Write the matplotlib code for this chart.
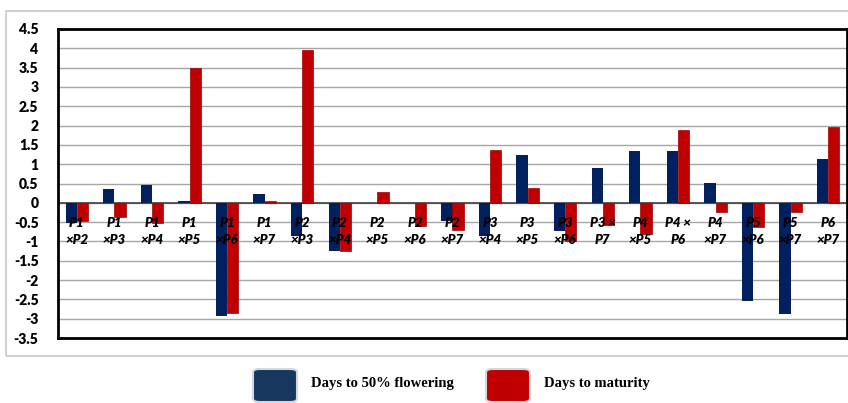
import matplotlib.pyplot as plt
from matplotlib.patches import FancyBboxPatch, Rectangle
import numpy as np

# crosses and the two traits
crosses = ["P1\n×P2", "P1\n×P3", "P1\n×P4", "P1\n×P5", "P1\n×P6", "P1\n×P7",
           "P2\n×P3", "P2\n×P4", "P2\n×P5", "P2\n×P6", "P2\n×P7",
           "P3\n×P4", "P3\n×P5", "P3\n×P6", "P3 ×\nP7",
           "P4\n×P5", "P4 ×\nP6", "P4\n×P7", "P5\n×P6", "P5\n×P7", "P6\n×P7"]
flowering = [-0.53, 0.35, 0.45, 0.05, -2.93, 0.22, -0.87, -1.25, 0.0, 0.0, -0.48,
             -0.87, 1.23, -0.74, 0.90, 1.33, 1.35, 0.51, -2.53, -2.88, 1.13]
maturity = [-0.46, -0.36, -0.53, 3.50, -2.86, 0.05, 3.95, -1.25, 0.27, -0.60, -0.70,
            1.38, 0.38, -0.98, -0.57, -0.80, 1.89, -0.24, -0.63, -0.24, 1.95]
legend_names = ["Days to 50% flowering", "Days to maturity"]
y_ticks = [-3.5, -3, -2.5, -2, -1.5, -1, -0.5, 0, 0.5, 1, 1.5, 2, 2.5, 3, 3.5, 4, 4.5]

blue = "#002060"
red = "#c00000"

fig = plt.figure(figsize=(8.48, 4.03), dpi=100)
ax = fig.add_axes([58 / 848, 1 - 338 / 403, 789 / 848, 309 / 403])

# light outer frame of the chart
fig.patches.append(Rectangle((6 / 848, 1 - 356 / 403), 1.0, 345 / 403,
                             transform=fig.transFigure, fill=False,
                             edgecolor="#c8c8c8", linewidth=1.2))

x = np.arange(len(crosses))
w = 0.3
ax.bar(x - w / 2, flowering, w, color=blue, zorder=3)
ax.bar(x + w / 2, maturity, w, color=red, edgecolor="#a00000", linewidth=0.5, zorder=3)

ax.set_xlim(-0.5, len(crosses) - 0.5)
ax.set_ylim(-3.5, 4.5)
ax.set_yticks(y_ticks)
ax.set_yticklabels([f"{t:g}" for t in y_ticks], fontsize=10, fontweight="heavy",
                   family="Lato")
ax.tick_params(axis="y", length=0, pad=14)
ax.set_xticks([])
ax.grid(axis="y", color="#a6a6a6", linewidth=1, zorder=0)
ax.axhline(0, color="#404040", linewidth=1.2, zorder=2)
for s in ax.spines.values():
    s.set_linewidth(2)
    s.set_color("black")

for i, lab in enumerate(crosses):
    ax.text(i, -0.74, lab, ha="center", va="center", fontsize=9.5,
            fontweight="heavy", fontstyle="italic", family="Lato",
            linespacing=1.5, zorder=4)

# legend with big square swatches
for (x0, col, name) in [(253, "#17375e", legend_names[0]), (486, red, legend_names[1])]:
    fig.patches.append(FancyBboxPatch((x0 / 848, 1 - 402 / 403), 44 / 848, 33 / 403,
                                      boxstyle="round,pad=0,rounding_size=0.008",
                                      transform=fig.transFigure, facecolor=col,
                                      edgecolor="#d0d8e0", linewidth=1.5))
    fig.text((x0 + 58) / 848, 1 - 383 / 403, name, ha="left", va="center",
             fontsize=10.5, fontweight="bold", family="Liberation Serif")

fig.savefig("out.png", dpi=100)
